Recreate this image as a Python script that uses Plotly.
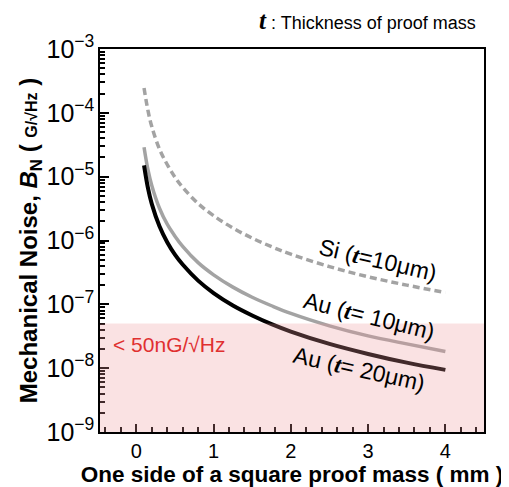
import plotly.graph_objects as go

side_mm = [0.1, 0.15, 0.2, 0.3, 0.4, 0.5, 0.6, 0.8, 1.0, 1.25, 1.5, 1.75, 2.0, 2.5, 3.0, 3.5, 4.0]
si_10um = [2.45e-4, 1.1e-4, 6.1e-5, 2.7e-5, 1.55e-5, 9.8e-6, 6.8e-6, 3.8e-6, 2.45e-6, 1.57e-6,
           1.09e-6, 8.0e-7, 6.1e-7, 3.9e-7, 2.7e-7, 2.0e-7, 1.53e-7]
au_10um = [2.9e-5, 1.3e-5, 7.3e-6, 3.2e-6, 1.8e-6, 1.17e-6, 8.1e-7, 4.5e-7, 2.9e-7, 1.86e-7,
           1.29e-7, 9.5e-8, 7.2e-8, 4.6e-8, 3.2e-8, 2.4e-8, 1.83e-8]
au_20um = [1.5e-5, 6.7e-6, 3.75e-6, 1.67e-6, 9.4e-7, 6.0e-7, 4.2e-7, 2.35e-7, 1.5e-7, 9.6e-8,
           6.7e-8, 4.9e-8, 3.75e-8, 2.4e-8, 1.67e-8, 1.22e-8, 9.4e-9]
threshold = 5e-8
x_ticks = [0, 1, 2, 3, 4]

FONT = "Liberation Sans, Arial, sans-serif"
SERIF = "Liberation Serif, Times New Roman, serif"
T = f'<span style="font-family:{SERIF}"><b><i>t</i></b></span>'

fig = go.Figure()
fig.add_trace(go.Scatter(x=side_mm, y=si_10um, mode="lines",
                         line=dict(color="#a3a3a3", width=3.5, dash="7px,4px", shape="spline"),
                         showlegend=False))
fig.add_trace(go.Scatter(x=side_mm, y=au_10um, mode="lines",
                         line=dict(color="#a3a3a3", width=3.5, shape="spline"), showlegend=False))
fig.add_trace(go.Scatter(x=side_mm, y=au_20um, mode="lines",
                         line=dict(color="#000000", width=4, shape="spline"), showlegend=False))

fig.add_shape(type="rect", xref="paper", yref="y", x0=0, x1=1, y0=1e-9, y1=threshold,
              fillcolor="rgba(238,150,155,0.28)", line=dict(width=0), layer="above")

ann = dict(showarrow=False, font=dict(family=FONT, size=23, color="#000"))
fig.add_annotation(x=3.13, y=-6.30, text=f"Si ({T}=10μm)", textangle=13, **ann)
fig.add_annotation(x=3.01, y=-7.19, text=f"Au ({T}= 10μm)", textangle=14, **ann)
fig.add_annotation(x=2.88, y=-8.02, text=f"Au ({T}= 20μm)", textangle=12.5, **ann)
fig.add_annotation(x=-0.33, y=-7.63, xanchor="left", text="< 50nG/√Hz", showarrow=False,
                   font=dict(family=FONT, size=21, color="#e03030"))
fig.add_annotation(xref="paper", yref="paper", x=0.985, y=1.035, xanchor="right", yanchor="bottom",
                   text=f'<span style="font-size:25px">{T}</span> : Thickness of proof mass',
                   showarrow=False, font=dict(family=FONT, size=18, color="#000"))

fig.update_layout(
    template="none",
    width=509, height=487,
    margin=dict(l=92, r=33, t=41, b=63),
    paper_bgcolor="white", plot_bgcolor="white",
    font=dict(family=FONT, size=20, color="#000"),
)
fig.update_xaxes(range=[-0.47, 4.5], tickvals=x_ticks, ticks="inside", ticklen=8, tickwidth=1.5,
                 tickcolor="#000", automargin=True,
                 showline=True, linecolor="#000", linewidth=1.5, mirror=True, showgrid=False,
                 zeroline=False,
                 minor=dict(ticks="inside", ticklen=5, tickwidth=1.5, tickcolor="#000",
                            tick0=0, dtick=0.2, showgrid=False),
                 tickfont=dict(size=20),
                 title=dict(text="<b>One side of a square proof mass ( mm )</b>",
                            font=dict(size=22.5), standoff=2))
fig.update_yaxes(type="log", range=[-9, -3], dtick=1, exponentformat="power",
                 ticks="inside", ticklen=9, tickwidth=1.5, tickcolor="#000", automargin=True,
                 showline=True, linecolor="#000", linewidth=1.5,
                 mirror=True, showgrid=False,
                 minor=dict(ticks="inside", ticklen=5, tickwidth=1.5, tickcolor="#000",
                            dtick="D1", showgrid=False),
                 tickfont=dict(size=20),
                 title=dict(text='<b>Mechanical Noise, <i>B</i><sub>N</sub> ( <span style="font-size:16px">G/√Hz</span> )</b>',
                            font=dict(size=24), standoff=2))

fig.write_html("out.html")
